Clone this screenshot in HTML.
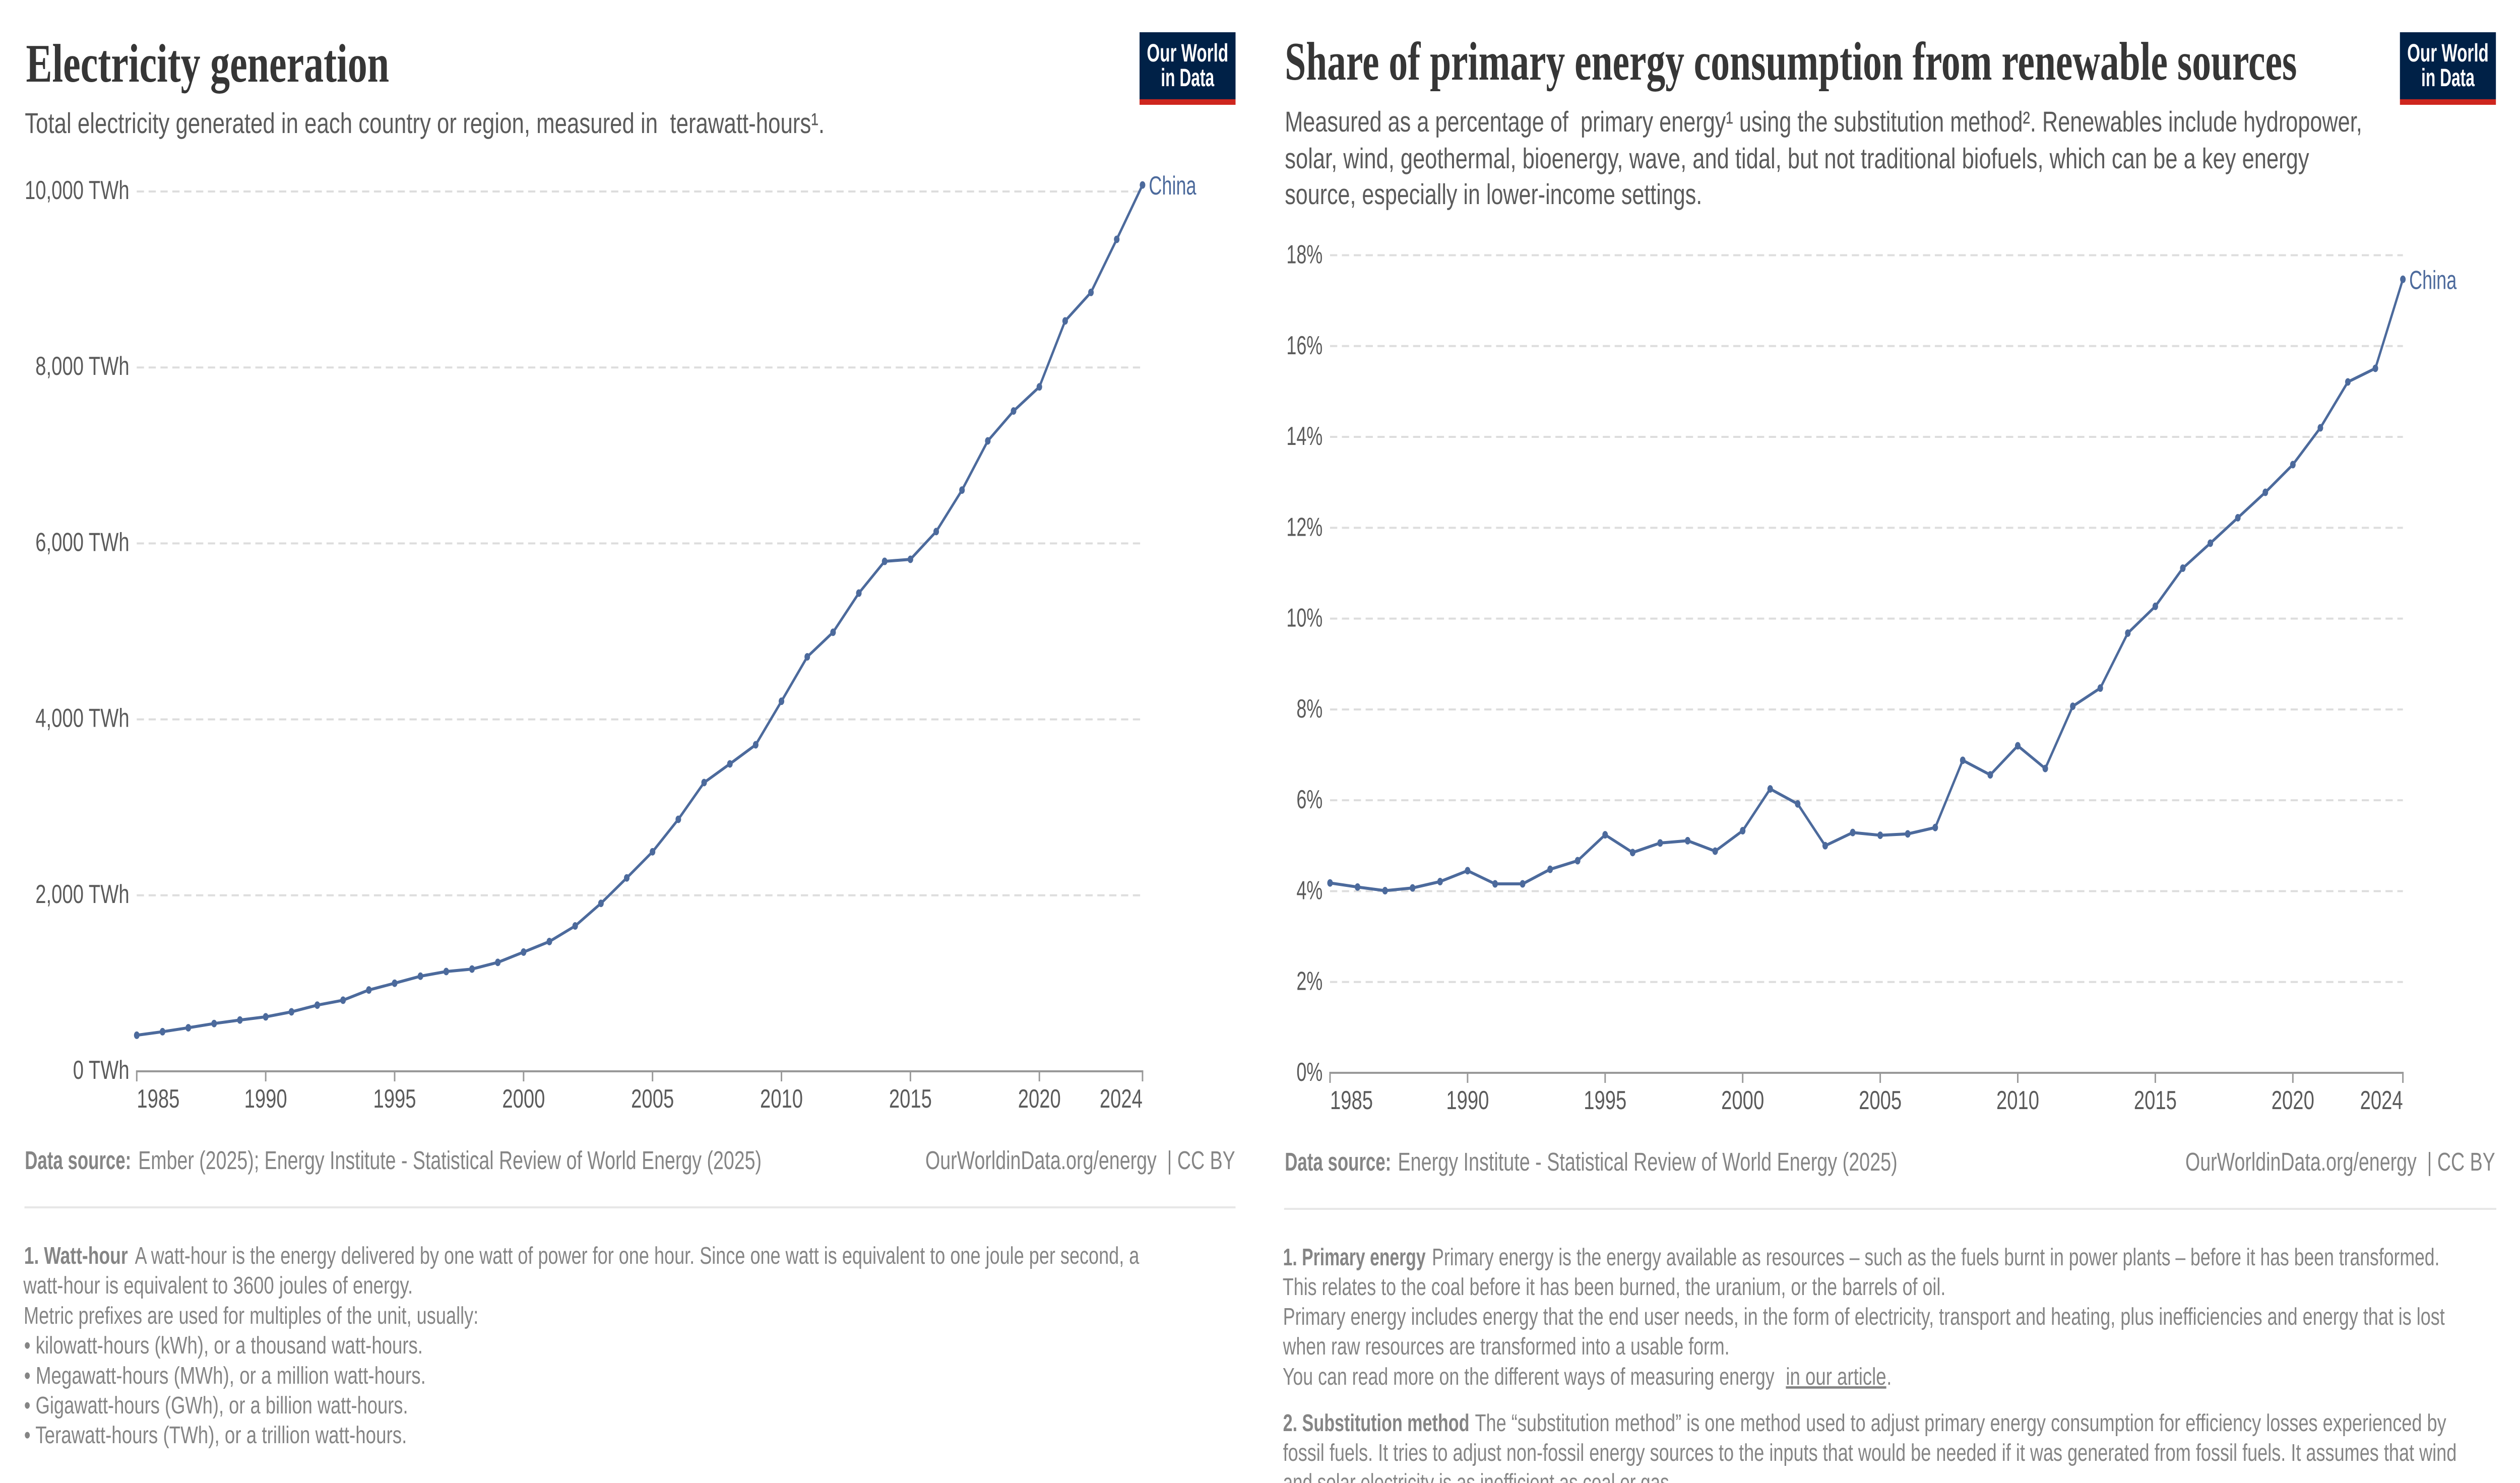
<!DOCTYPE html>
<html lang="en">
<head>
<meta charset="utf-8">
<title>Electricity generation and renewable energy share</title>
<style>
html,body{margin:0;padding:0;background:#fff;width:100%;height:100%;overflow:hidden}
svg{display:block;width:100vw;height:100vh;text-rendering:geometricPrecision;overflow:hidden}
text{font-family:"Liberation Sans",sans-serif;white-space:pre}
.title{font-family:"Liberation Serif",serif;font-weight:700;font-size:108px;fill:#363636}
.sub{font-size:57px;fill:#5b5b5b}
.src{font-size:51px;fill:#858585}
.note{font-size:48px;fill:#858585}
.b{font-weight:700}
.logo{font-size:50px;font-weight:700;fill:#fff;text-anchor:middle}
</style>
</head>
<body>
<svg id="page" xmlns="http://www.w3.org/2000/svg" viewBox="0 0 6800 2943" preserveAspectRatio="none">
<rect width="6800" height="2943" fill="#fff"/>

<g id="left-panel">
<text class="title" x="70" y="162" data-fit="980">Electricity generation</text>
<text class="sub" x="67" y="264" data-fit="2158">Total electricity generated in each country or region, measured in  terawatt-hours¹.</text>
<g>
<rect x="3075" y="64" width="259" height="133" fill="#002147"/>
<rect x="3075" y="197" width="259" height="11" fill="#ce261e"/>
<text class="logo" x="3204.5" y="122" data-fit="220">Our World</text>
<text class="logo" x="3204.5" y="171" data-fit="144">in Data</text>
</g>
<text class="src b" x="67" y="2320" data-fit="287">Data source:</text>
<text class="src" x="373" y="2320" data-fit="1682">Ember (2025); Energy Institute - Statistical Review of World Energy (2025)</text>
<text class="src" x="2497" y="2320" data-fit="836">OurWorldinData.org/energy  | CC BY</text>
<line x1="66" x2="3334" y1="2396" y2="2396" stroke="#e7e7e7" stroke-width="4"/>
<g>
<text class="note b" x="65" y="2508" data-fit="280">1. Watt-hour</text>
<text class="note" x="364" y="2508" data-fit="2710">A watt-hour is the energy delivered by one watt of power for one hour. Since one watt is equivalent to one joule per second, a</text>
<text class="note" x="63" y="2567" data-fit="1051">watt-hour is equivalent to 3600 joules of energy.</text>
<text class="note" x="64" y="2627" data-fit="1227">Metric prefixes are used for multiples of the unit, usually:</text>
<text class="note" x="65" y="2686" data-fit="1076">• kilowatt-hours (kWh), or a thousand watt-hours.</text>
<text class="note" x="65" y="2746" data-fit="1084">• Megawatt-hours (MWh), or a million watt-hours.</text>
<text class="note" x="65" y="2805" data-fit="1036">• Gigawatt-hours (GWh), or a billion watt-hours.</text>
<text class="note" x="65" y="2864" data-fit="1033">• Terawatt-hours (TWh), or a trillion watt-hours.</text>
</g>
</g>

<g id="right-panel">
<text class="title" x="3467" y="158" data-fit="2731">Share of primary energy consumption from renewable sources</text>
<text class="sub" x="3467" y="261" data-fit="2907">Measured as a percentage of  primary energy¹ using the substitution method². Renewables include hydropower,</text>
<text class="sub" x="3467" y="334" data-fit="2764">solar, wind, geothermal, bioenergy, wave, and tidal, but not traditional biofuels, which can be a key energy</text>
<text class="sub" x="3467" y="405" data-fit="1126">source, especially in lower-income settings.</text>
<g>
<rect x="6476" y="64" width="259" height="133" fill="#002147"/>
<rect x="6476" y="197" width="259" height="11" fill="#ce261e"/>
<text class="logo" x="6605.5" y="122" data-fit="220">Our World</text>
<text class="logo" x="6605.5" y="171" data-fit="144">in Data</text>
</g>
<text class="src b" x="3467" y="2323" data-fit="287">Data source:</text>
<text class="src" x="3772" y="2323" data-fit="1348">Energy Institute - Statistical Review of World Energy (2025)</text>
<text class="src" x="5897" y="2323" data-fit="836">OurWorldinData.org/energy  | CC BY</text>
<line x1="3465" x2="6736" y1="2399" y2="2399" stroke="#e7e7e7" stroke-width="4"/>
<g>
<text class="note b" x="3462" y="2511" data-fit="385">1. Primary energy</text>
<text class="note" x="3864" y="2511" data-fit="2719">Primary energy is the energy available as resources – such as the fuels burnt in power plants – before it has been transformed.</text>
<text class="note" x="3461" y="2570" data-fit="1789">This relates to the coal before it has been burned, the uranium, or the barrels of oil.</text>
<text class="note" x="3462" y="2629" data-fit="3135">Primary energy includes energy that the end user needs, in the form of electricity, transport and heating, plus inefficiencies and energy that is lost</text>
<text class="note" x="3462" y="2688" data-fit="1205">when raw resources are transformed into a usable form.</text>
<text class="note" x="3461" y="2748" data-fit="1327">You can read more on the different ways of measuring energy</text>
<text class="note" x="4819" y="2748" data-fit="271" text-decoration="underline">in our article</text>
<text class="note" x="5091" y="2748">.</text>
<text class="note b" x="3462" y="2840" data-fit="503">2. Substitution method</text>
<text class="note" x="3980" y="2840" data-fit="2621">The “substitution method” is one method used to adjust primary energy consumption for efficiency losses experienced by</text>
<text class="note" x="3462" y="2899" data-fit="3167">fossil fuels. It tries to adjust non-fossil energy sources to the inputs that would be needed if it was generated from fossil fuels. It assumes that wind</text>
<text class="note" x="3462" y="2958" data-fit="1055">and solar electricity is as inefficient as coal or gas.</text>
</g>
</g>
</svg>

<script>
var years = [1985,1986,1987,1988,1989,1990,1991,1992,1993,1994,1995,1996,1997,1998,1999,2000,2001,2002,2003,2004,2005,2006,2007,2008,2009,2010,2011,2012,2013,2014,2015,2016,2017,2018,2019,2020,2021,2022,2023,2024];
var electricityTwh = [410,450,495,543,583,619,676,752,808,924,1001,1081,1134,1162,1238,1355,1475,1652,1909,2198,2495,2864,3282,3494,3711,4206,4711,4990,5435,5796,5819,6135,6606,7165,7505,7779,8529,8853,9456,10074];
var renewableSharePct = [4.18,4.09,4.01,4.07,4.21,4.45,4.16,4.16,4.48,4.67,5.24,4.85,5.06,5.11,4.88,5.33,6.25,5.92,5.00,5.29,5.23,5.26,5.40,6.88,6.56,7.20,6.70,8.07,8.47,9.68,10.27,11.11,11.66,12.22,12.78,13.39,14.20,15.21,15.51,17.47];
var xTickYears = [1985,1990,1995,2000,2005,2010,2015,2020,2024];
var electricityTicks = [0,2000,4000,6000,8000,10000];
var electricityTickLabels = ['0 TWh','2,000 TWh','4,000 TWh','6,000 TWh','8,000 TWh','10,000 TWh'];
var renewableTicks = [0,2,4,6,8,10,12,14,16,18];
var renewableTickLabels = ['0%','2%','4%','6%','8%','10%','12%','14%','16%','18%'];
var seriesName = 'China';

var NS = 'http://www.w3.org/2000/svg';
var LINE_COLOR = '#4c6a9c';

function scaleAboutX(el, sx) {
  var ax = parseFloat(el.getAttribute('x'));
  el.setAttribute('transform', 'matrix(' + sx.toFixed(5) + ' 0 0 1 ' + (ax * (1 - sx)).toFixed(3) + ' 0)');
}
function fitWidth(el, target) {
  scaleAboutX(el, target / el.getComputedTextLength());
}

function drawChart(cfg) {
  var x = function (year) { return cfg.left + (year - years[0]) / (years[years.length - 1] - years[0]) * (cfg.right - cfg.left); };
  var y = function (v) { return cfg.zeroY - (v - cfg.ticks[0]) / (cfg.ticks[cfg.ticks.length - 1] - cfg.ticks[0]) * (cfg.zeroY - cfg.topY); };
  var root = document.createElementNS(NS, 'g');
  
  
  document.getElementById(cfg.parent).appendChild(root);

  cfg.ticks.forEach(function (t, i) {
    if (t !== 0) {
      var grid = document.createElementNS(NS, 'line');
      
      
      grid.setAttribute('x1', cfg.left);
      grid.setAttribute('x2', cfg.right);
      grid.setAttribute('y1', y(t));
      grid.setAttribute('y2', y(t));
      grid.setAttribute('stroke', '#dddddd');
      grid.setAttribute('stroke-width', '4');
      grid.setAttribute('stroke-dasharray', '19.5 12.5');
      root.appendChild(grid);
    }
    var lab = document.createElementNS(NS, 'text');
    
    
    lab.setAttribute('x', cfg.left - cfg.labelGap);
    lab.setAttribute('y', y(t) + cfg.labelDy);
    lab.setAttribute('text-anchor', 'end');
    lab.setAttribute('font-size', '52');
    lab.setAttribute('fill', '#5b5b5b');
    lab.textContent = cfg.tickLabels[i];
    root.appendChild(lab);
    if (cfg.squash !== 1) {
      scaleAboutX(lab, cfg.squash);
    }
  });

  var axis = document.createElementNS(NS, 'line');
  
  
  axis.setAttribute('x1', cfg.left - 2);
  axis.setAttribute('x2', cfg.right + 2);
  axis.setAttribute('y1', cfg.zeroY);
  axis.setAttribute('y2', cfg.zeroY);
  axis.setAttribute('stroke', '#999999');
  axis.setAttribute('stroke-width', '4');
  root.appendChild(axis);

  xTickYears.forEach(function (yr, i) {
    var tick = document.createElementNS(NS, 'line');
    
    
    tick.setAttribute('x1', x(yr));
    tick.setAttribute('x2', x(yr));
    tick.setAttribute('y1', cfg.zeroY);
    tick.setAttribute('y2', cfg.zeroY + 20);
    tick.setAttribute('stroke', '#999999');
    tick.setAttribute('stroke-width', '4');
    root.appendChild(tick);
    var lab = document.createElementNS(NS, 'text');
    
    
    lab.setAttribute('x', x(yr));
    lab.setAttribute('y', cfg.zeroY + 72);
    lab.setAttribute('text-anchor', i === 0 ? 'start' : (i === xTickYears.length - 1 ? 'end' : 'middle'));
    lab.setAttribute('font-size', '52');
    lab.setAttribute('fill', '#5b5b5b');
    lab.textContent = String(yr);
    root.appendChild(lab);
  });

  var d = cfg.values.map(function (v, i) { return (i ? 'L' : 'M') + x(years[i]).toFixed(2) + ' ' + y(v).toFixed(2); }).join(' ');
  var path = document.createElementNS(NS, 'path');
  
  
  path.setAttribute('d', d);
  path.setAttribute('fill', 'none');
  path.setAttribute('stroke', LINE_COLOR);
  path.setAttribute('stroke-width', '6');
  path.setAttribute('stroke-linejoin', 'round');
  root.appendChild(path);

  cfg.values.forEach(function (v, i) {
    var c = document.createElementNS(NS, 'circle');
    
    
    c.setAttribute('cx', x(years[i]));
    c.setAttribute('cy', y(v));
    c.setAttribute('r', '7.5');
    c.setAttribute('fill', LINE_COLOR);
    root.appendChild(c);
  });

  var last = cfg.values[cfg.values.length - 1];
  var name = document.createElementNS(NS, 'text');
  
  
  name.setAttribute('x', x(years[years.length - 1]) + 17);
  name.setAttribute('y', y(last) + 19);
  name.setAttribute('font-size', '52');
  name.setAttribute('fill', LINE_COLOR);
  name.textContent = seriesName;
  root.appendChild(name);
  fitWidth(name, 128);
}

document.querySelectorAll('text[data-fit]').forEach(function (el) {
  fitWidth(el, parseFloat(el.getAttribute('data-fit')));
});

drawChart({name:'electricity-line-chart', parent:'left-panel', values:electricityTwh, ticks:electricityTicks, tickLabels:electricityTickLabels, left:369, right:3083, topY:380, zeroY:2126, labelGap:20, labelDy:15, squash:1});
drawChart({name:'renewables-line-chart', parent:'right-panel', values:renewableSharePct, ticks:renewableTicks, tickLabels:renewableTickLabels, left:3589, right:6484, topY:506.5, zeroY:2129, labelGap:20, labelDy:16, squash:0.94});
</script>
</body>
</html>
